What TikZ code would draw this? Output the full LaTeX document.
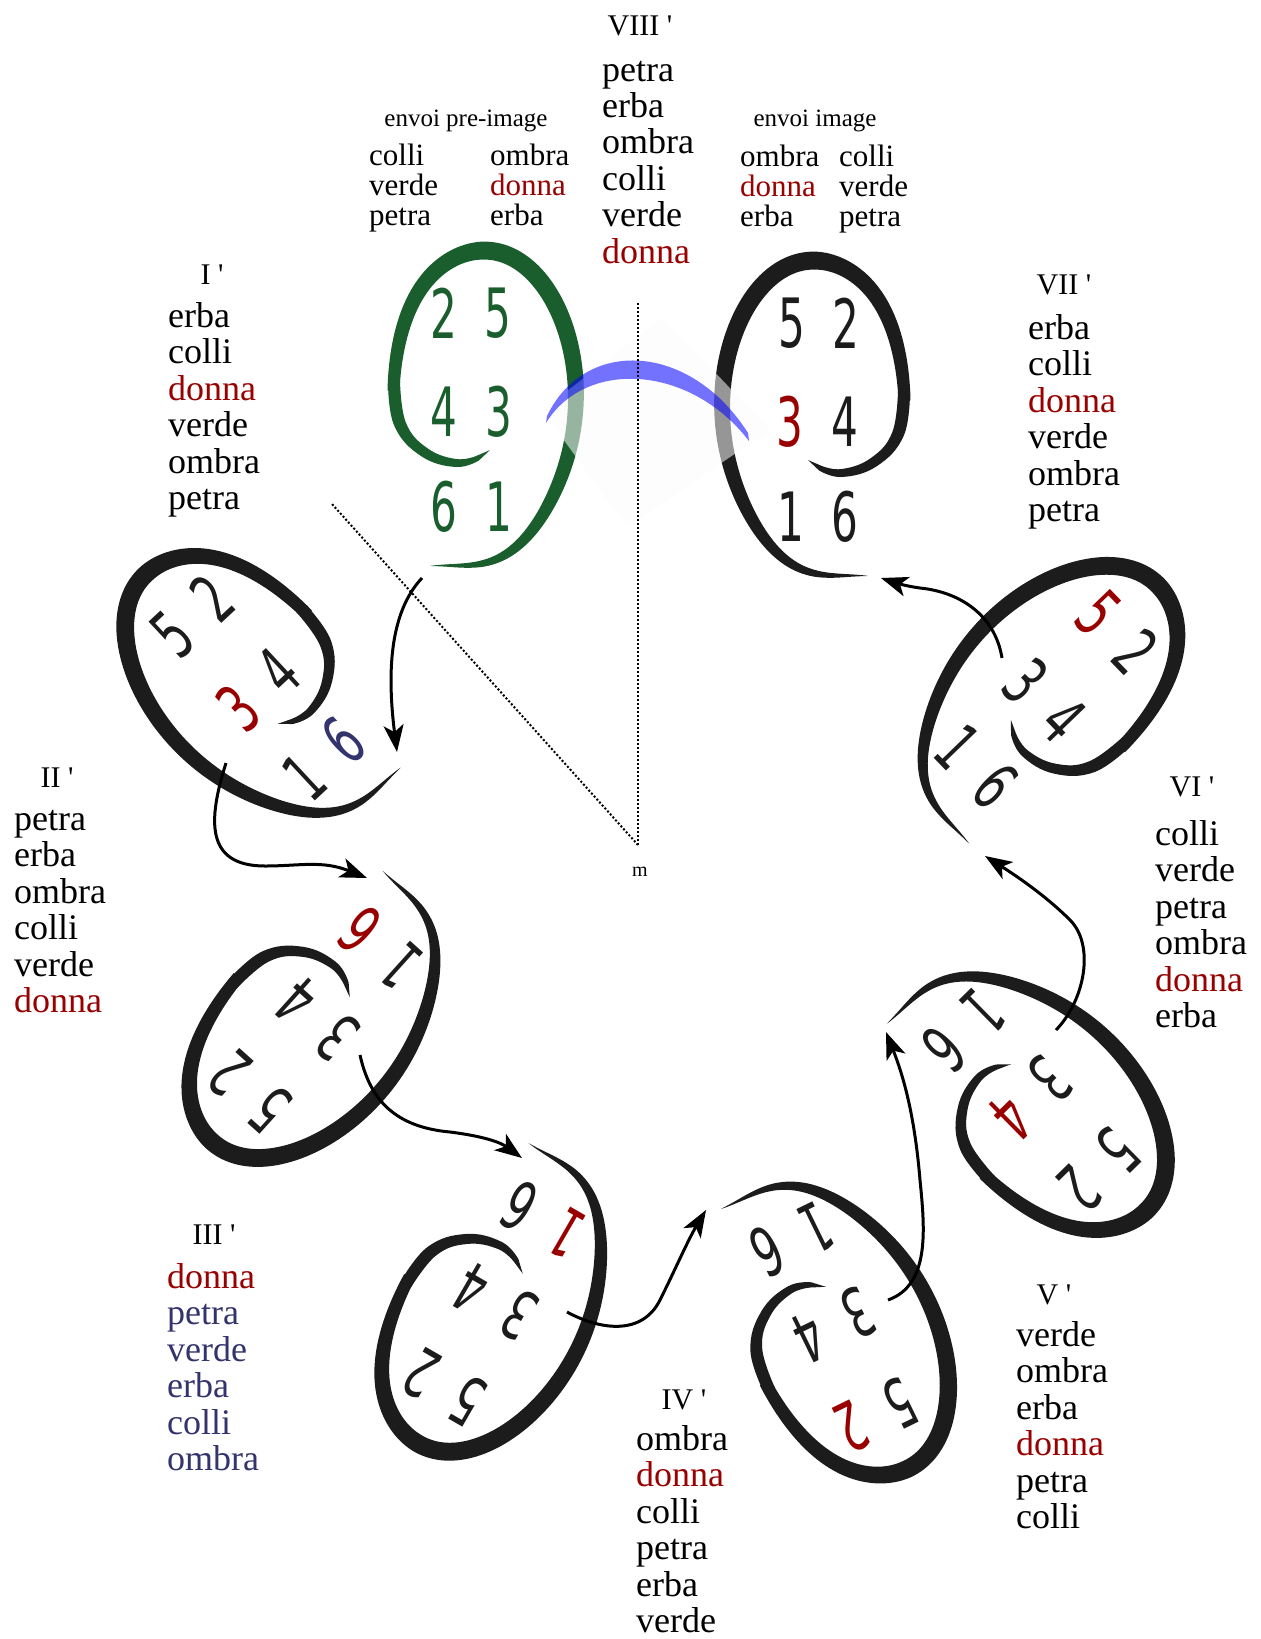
\documentclass[tikz,border=0pt]{standalone}
\usepackage{fontspec}
\usepackage{graphicx}
\setmainfont{Liberation Serif}
\newfontfamily\digitfont{DejaVu Sans}
\usetikzlibrary{arrows.meta}

\definecolor{inkred}{RGB}{153,0,0}
\definecolor{inkblue}{RGB}{51,51,110}
\definecolor{inkgreen}{RGB}{27,94,46}
\definecolor{inkblack}{RGB}{28,28,28}
\definecolor{tk}{RGB}{0,0,0}
\colorlet{tr}{inkred}
\colorlet{tb}{inkblue}

% narrow digits
\newcommand\dgt[1]{\scalebox{0.62}[1]{#1}}

% one column of words: name, x, first baseline, step, style, colour/word list
\newcommand\wordcol[6]{%
  \foreach [count=\n from 0] \c/\w in {#6}{%
    \node[wd,#5,text=\c] (#1-\n) at (#2,-#3-\n*#4) {\w};}}

% the six digits of a coil, in its own frame
\newcommand\sixdigits[7]{%
  \node[dg,transform shape,text=#2] (#1-5) at (-20,93) {\dgt{5}};
  \node[dg,transform shape,text=#3] (#1-2) at (34,93) {\dgt{2}};
  \node[dg,transform shape,text=#4] (#1-3) at (-22,-6) {\dgt{3}};
  \node[dg,transform shape,text=#5] (#1-4) at (33,-6) {\dgt{4}};
  \node[dg,transform shape,text=#6] (#1-1) at (-21,-101) {\dgt{1}};
  \node[dg,transform shape,text=#7] (#1-6) at (33,-101) {\dgt{6}};}

\begin{document}
\begin{tikzpicture}[x=1pt,y=1pt,
  declare function={
    spr(\x)=1+0.2*exp(-min(\x/15,9))
             -0.07*exp(-min(((\x-80)/40)*((\x-80)/40),9))
             +0.04*exp(-min(((\x-260)/30)*((\x-260)/30),9));
    sw(\x)=ifthenelse(\x<213,18*sin(90*pow(max(\x,0.01)/213,0.7)),18-6*(\x-213)/82);
    sth(\x)=-59.4-\x;
    snl(\x)=veclen(155*cos(sth(\x)),92*sin(sth(\x)));
    sex(\x,\y)=92*spr(\x)*cos(sth(\x))+\y*sw(\x)/2*155*cos(sth(\x))/snl(\x);
    sey(\x,\y)=155*spr(\x)*sin(sth(\x))+\y*sw(\x)/2*92*sin(sth(\x))/snl(\x);
  },
  wd/.style={anchor=base west,inner sep=0pt},
  big/.style={font=\fontsize{36}{36}\selectfont},
  mid/.style={font=\fontsize{31}{31}\selectfont},
  ttl/.style={anchor=base,inner sep=0pt,font=\fontsize{30}{30}\selectfont},
  hdr/.style={anchor=base,inner sep=0pt,font=\fontsize{25}{25}\selectfont},
  dg/.style={inner sep=0pt,font=\digitfont\fontsize{68}{68}\selectfont,text=inkblack},
  flow/.style={line width=3pt,draw=black,-{Stealth[length=27pt,width=20pt,inset=7pt]}},
  guide/.style={line width=2pt,dash pattern=on 2pt off 2pt,draw=black},
  pics/coil/.style={code={%
    % outer loop of the coil, tapering in from its free tail
    \fill[#1] plot[domain=0:295,samples=130,variable=\q] ({sex(\q,1)},{sey(\q,1)})
      -- plot[domain=295:0,samples=130,variable=\q] ({sex(\q,-1)},{sey(\q,-1)}) -- cycle;
    % inner hook
    \fill[#1] plot[smooth,tension=0.7] coordinates {(98,25) (91.8,-19.6) (64.9,-50.1) (30,-61) (6.9,-54.3)}
      -- (-4,-44)
      -- plot[smooth,tension=0.7] coordinates {(9.1,-49.7) (30,-53) (59.1,-41.9) (80.2,-16.4) (86,25)}
      -- cycle;}}
]
\fill[white] (0,0) rectangle (1261,-1639);
\useasboundingbox (0,0) rectangle (1261,-1639);

% ---- the coils ----
% envoi pre-image (mirrored, green)
\begin{scope}[shift={(486,-406)}]
  \pic[xscale=-1,transform shape] {coil=inkgreen};
  \node[dg,text=inkgreen] (P-2) at (-42,93) {\dgt{2}};
  \node[dg,text=inkgreen] (P-5) at (12,93) {\dgt{5}};
  \node[dg,text=inkgreen] (P-4) at (-42,-6) {\dgt{4}};
  \node[dg,text=inkgreen] (P-3) at (13,-6) {\dgt{3}};
  \node[dg,text=inkgreen] (P-6) at (-42,-101) {\dgt{6}};
  \node[dg,text=inkgreen] (P-1) at (13,-101) {\dgt{1}};
\end{scope}
% envoi image
\begin{scope}[shift={(812,-416)}]
  \pic[transform shape] {coil=inkblack};
  \sixdigits{E}{inkblack}{inkblack}{inkred}{inkblack}{inkblack}{inkblack}
\end{scope}
% stanza coils
\begin{scope}[shift={(250.5,-689)},rotate=43]
  \pic[transform shape] {coil=inkblack};
  \sixdigits{S1}{inkblack}{inkblack}{inkred}{inkblack}{inkblack}{inkblue}
\end{scope}
\begin{scope}[shift={(317.4,-1027.4)},rotate=138]
  \pic[transform shape] {coil=inkblack};
  \sixdigits{S2}{inkblack}{inkblack}{inkblack}{inkblack}{inkblack}{inkred}
\end{scope}
\begin{scope}[shift={(497.3,-1309.8)},rotate=150]
  \pic[transform shape] {coil=inkblack};
  \sixdigits{S3}{inkblack}{inkblack}{inkblack}{inkblack}{inkred}{inkblack}
\end{scope}
\begin{scope}[shift={(841.5,-1328.1)},rotate=206]
  \pic[transform shape] {coil=inkblack};
  \sixdigits{S4}{inkblack}{inkred}{inkblack}{inkblack}{inkblack}{inkblack}
\end{scope}
\begin{scope}[shift={(1039,-1098.4)},rotate=224.5]
  \pic[transform shape] {coil=inkblack};
  \sixdigits{S5}{inkblack}{inkblack}{inkblack}{inkred}{inkblack}{inkblack}
\end{scope}
\begin{scope}[shift={(1045.3,-692.2)},rotate=-46]
  \pic[transform shape] {coil=inkblack};
  \sixdigits{S6}{inkred}{inkblack}{inkblack}{inkblack}{inkblack}{inkblack}
\end{scope}

% ---- pale veil and the blue bridge between the two envoi coils ----
\fill[black!1, opacity=0.55] (542,-410) -- (663,-318) -- (770,-430) -- (627,-527) -- cycle;
\fill[blue, opacity=0.55] (547,-416) .. controls (585,-337) and (690,-342) .. (748,-433)
  -- (749,-441) .. controls (690,-364) and (585,-359) .. (546,-423) -- cycle;

% ---- mirror guides ----
\coordinate (m) at (638,-845);
\coordinate (mtop) at (638,-303);
\coordinate (mdiag) at (332,-504);
\draw[guide] (m) -- (mtop);
\draw[guide] (m) -- (mdiag);
\node[anchor=base,inner sep=0pt,font=\fontsize{20}{20}\selectfont] (mlabel) at (640,-876) {m};

% ---- connectors ----
\coordinate (a1s) at (422,-578);  \coordinate (a1e) at (397,-752);
\coordinate (a2s) at (226,-763);  \coordinate (a2e) at (367,-878);
\coordinate (a3s) at (360,-1055); \coordinate (a3e) at (522,-1158);
\coordinate (a4s) at (567,-1312); \coordinate (a4e) at (706,-1210);
\coordinate (a5s) at (888,-1300); \coordinate (a5e) at (886,-1032);
\coordinate (a6s) at (1056,-1030);\coordinate (a6e) at (985,-856);
\coordinate (a7s) at (1002,-658); \coordinate (a7e) at (881,-578);
\draw[flow] (a1s) .. controls (392,-610) and (386,-665) .. (a1e);
\draw[flow] (a2s) .. controls (208,-820) and (205,-866) .. (265,-866)
  .. controls (300,-866) and (322,-860) .. (a2e);
\draw[flow] (a3s) .. controls (370,-1100) and (395,-1127) .. (450,-1132)
  .. controls (482,-1136) and (500,-1142) .. (a3e);
\draw[flow] (a4s) .. controls (600,-1330) and (642,-1336) .. (660,-1300)
  .. controls (675,-1270) and (688,-1240) .. (a4e);
\draw[flow] (a5s) .. controls (930,-1285) and (925,-1230) .. (920,-1180)
  .. controls (915,-1120) and (905,-1080) .. (a5e);
\draw[flow] (a6s) .. controls (1085,-1000) and (1095,-945) .. (1070,-920)
  .. controls (1045,-895) and (1015,-875) .. (a6e);
\draw[flow] (a7s) .. controls (995,-615) and (960,-592) .. (920,-588)
  .. controls (905,-586) and (893,-582) .. (a7e);

% ---- titles ----
\node[ttl] (t8) at (640,-35) {VIII \textquotesingle};
\node[ttl] (t1) at (212,-284) {I \textquotesingle};
\node[ttl] (t2) at (57,-787) {II \textquotesingle};
\node[ttl] (t3) at (214,-1244) {III \textquotesingle};
\node[ttl] (t4) at (684,-1409) {IV \textquotesingle};
\node[ttl] (t5) at (1054,-1304) {V \textquotesingle};
\node[ttl] (t6) at (1192,-796) {VI \textquotesingle};
\node[ttl] (t7) at (1064,-294) {VII \textquotesingle};
\node[hdr] (hpre) at (466,-126) {envoi pre-image};
\node[hdr] (himg) at (815,-126) {envoi image};

% ---- word columns ----
\wordcol{W8}{602}{81}{36.4}{big}{tk/petra,tk/erba,tk/ombra,tk/colli,tk/verde,tr/donna}
\wordcol{W1}{168}{327}{36.5}{big}{tk/erba,tk/colli,tr/donna,tk/verde,tk/ombra,tk/petra}
\wordcol{W2}{14}{830}{36.5}{big}{tk/petra,tk/erba,tk/ombra,tk/colli,tk/verde,tr/donna}
\wordcol{W3}{167}{1288}{36.5}{big}{tr/donna,tb/petra,tb/verde,tb/erba,tb/colli,tb/ombra}
\wordcol{W4}{636}{1450}{36.5}{big}{tk/ombra,tr/donna,tk/colli,tk/petra,tk/erba,tk/verde}
\wordcol{W5}{1016}{1346}{36.5}{big}{tk/verde,tk/ombra,tk/erba,tr/donna,tk/petra,tk/colli}
\wordcol{W6}{1155}{845}{36.5}{big}{tk/colli,tk/verde,tk/petra,tk/ombra,tr/donna,tk/erba}
\wordcol{W7}{1028}{339}{36.5}{big}{tk/erba,tk/colli,tr/donna,tk/verde,tk/ombra,tk/petra}
\wordcol{PL}{369}{165}{30}{mid}{tk/colli,tk/verde,tk/petra}
\wordcol{PR}{490}{165}{30}{mid}{tk/ombra,tr/donna,tk/erba}
\wordcol{IL}{740}{166}{30}{mid}{tk/ombra,tr/donna,tk/erba}
\wordcol{IR}{839}{166}{30}{mid}{tk/colli,tk/verde,tk/petra}
\end{tikzpicture}
\end{document}
